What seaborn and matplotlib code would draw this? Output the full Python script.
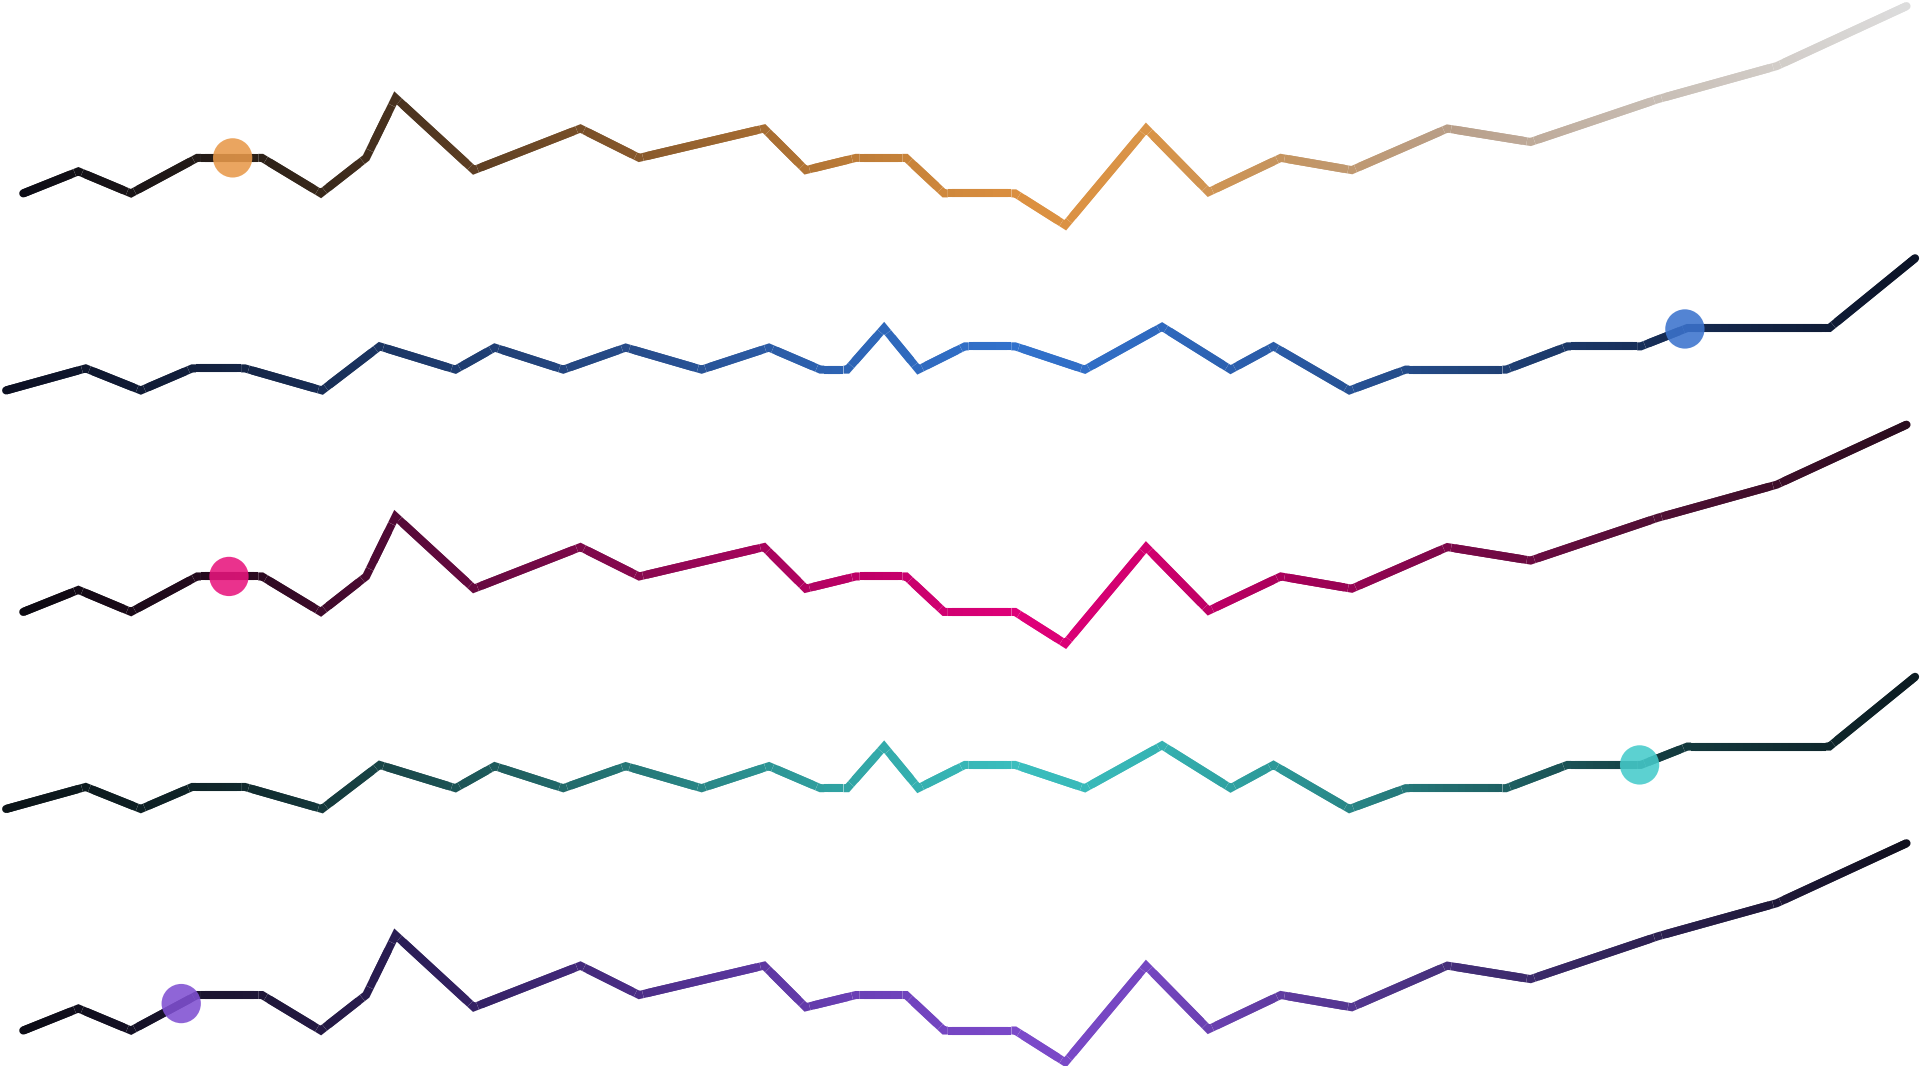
import matplotlib
matplotlib.use("Agg")
import matplotlib.pyplot as plt
import numpy as np
import pandas as pd
import seaborn as sns
from matplotlib.collections import LineCollection
from matplotlib.colors import LinearSegmentedColormap

# two shapes, repeated down the page
X_A = [19, 64, 107, 161, 214, 262, 299, 323, 387, 474, 522, 624, 658, 699, 740, 771,
       829, 870, 936, 987, 1046, 1104, 1182, 1250, 1354, 1451, 1557]
V_A = [26, 44, 26, 55, 55, 26, 55, 104, 45, 79, 55, 79, 45, 55, 55, 26,
       26, 0, 79, 27, 55, 45, 79, 68, 103, 130, 179]

X_B = [5, 70, 115, 157, 200, 263, 310, 372, 404, 460, 511, 573, 628, 670, 692, 722,
       750, 788, 829, 886, 949, 1005, 1040, 1102, 1148, 1230, 1280, 1340, 1378, 1494, 1564]
V_B = [0, 18, 0, 18, 18, 0, 36, 17, 35, 17, 35, 17, 35, 17, 17, 51,
       17, 36, 36, 17, 52, 17, 36, 0, 17, 17, 36, 36, 51, 51, 108]

SHAPES = ["A", "B", "A", "B", "A"]
OFFSETS = [687, 552, 345, 210, 3]
DOT_X = [190, 1376, 187, 1339, 148]
DOT_COLORS = ["#E8994A", "#3B73CD", "#E8157D", "#45CBCB", "#8050D2"]

STOPS = [0, 0.12, 0.21, 0.33, 0.45, 0.53, 0.6, 0.67, 0.76, 0.87, 1.0]
GRADIENTS = [
    ["#0C0C16", "#2A2018", "#4E3520", "#8A5A2C", "#C07E38", "#DC9040",
     "#D99448", "#C49460", "#B89E88", "#C8BEB5", "#DCDCDC"],
    ["#0C1022", "#142444", "#1C3868", "#274C8A", "#2E66B8", "#3272CC",
     "#2F6AC0", "#2A5AA4", "#22467E", "#162C55", "#0C1428"],
    ["#0C0A12", "#2A0A20", "#5A0A3A", "#8A0850", "#C00068", "#E0007A",
     "#D0006E", "#A8005A", "#7A0848", "#501034", "#2A0C1E"],
    ["#0C1418", "#10282C", "#1A4A4C", "#257878", "#32A8A8", "#3ABEBE",
     "#36B4B4", "#2C9696", "#226C6E", "#143C40", "#0C1C22"],
    ["#0C0C16", "#1E1636", "#2C1E58", "#4C2E88", "#6C40B8", "#7C4ACA",
     "#7446C0", "#5E3A9E", "#45307A", "#2C2050", "#10101E"],
]
LW = 5.8

sns.set_theme(style="white")
fig = plt.figure(figsize=(19.2, 10.66), dpi=100)
ax = fig.add_axes([0, 0, 1, 1])

dots = []
for i, shape in enumerate(SHAPES):
    xs = np.array(X_A if shape == "A" else X_B, dtype=float)
    ys = np.array(V_A if shape == "A" else V_B, dtype=float) + OFFSETS[i]
    cmap = LinearSegmentedColormap.from_list(f"g{i}", list(zip(STOPS, GRADIENTS[i])))

    # split every edge into short pieces so the colour can run along x;
    # corners are drawn by a piece centred on the vertex (sharp mitre)
    pts, corner = [], set()
    for j in range(len(xs) - 1):
        if j > 0:
            corner.add(len(pts))
        n = max(int(abs(xs[j + 1] - xs[j]) / 3), 2)
        for t in np.linspace(0, 1, n, endpoint=False):
            pts.append((xs[j] + t * (xs[j + 1] - xs[j]), ys[j] + t * (ys[j + 1] - ys[j])))
    pts.append((xs[-1], ys[-1]))
    pts = np.array(pts)

    pieces, frac = [], []
    for k in range(len(pts) - 2):
        if k in corner or (k + 2) in corner:
            continue
        pieces.append(pts[k:k + 3])
        frac.append((pts[k + 1, 0] - xs[0]) / (xs[-1] - xs[0]))
    lc = LineCollection(pieces, colors=cmap(np.array(frac)), linewidths=LW,
                        capstyle="butt", joinstyle="miter", zorder=2)
    ax.add_collection(lc)

    ends = [pts[:2], pts[-2:]]
    caps = LineCollection(ends, colors=cmap([0.0, 1.0]), linewidths=LW,
                          capstyle="round", zorder=2)
    ax.add_collection(caps)

    dots.append({"x": DOT_X[i], "y": np.interp(DOT_X[i], xs, ys), "line": i})

dot_df = pd.DataFrame(dots)
sns.scatterplot(data=dot_df, x="x", y="y", hue="line", palette=DOT_COLORS,
                s=800, alpha=0.88, linewidth=0, legend=False, ax=ax, zorder=3)
ax.set_xlim(0, 1568)
ax.set_ylim(0, 871)
ax.axis("off")

fig.savefig("out.png", dpi=100, facecolor="white")
